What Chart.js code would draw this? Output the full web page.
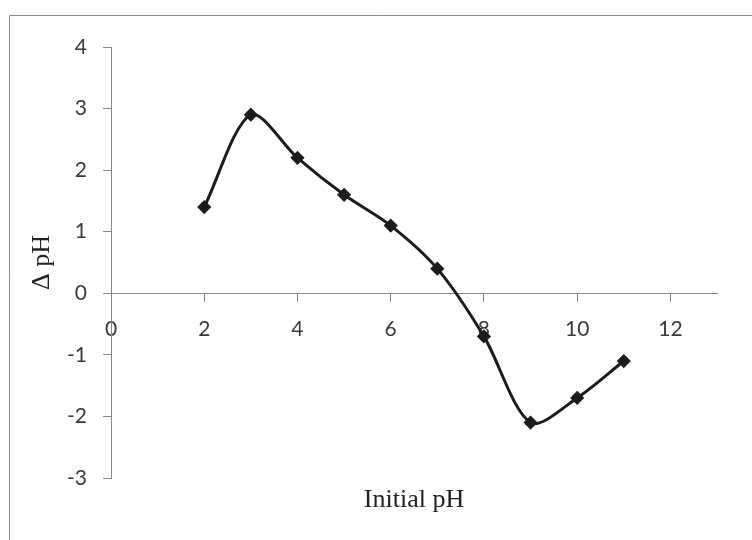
<!DOCTYPE html>
<html>
<head>
<meta charset="utf-8">
<script src="https://cdn.jsdelivr.net/npm/chart.js@4/dist/chart.umd.min.js"></script>
<style>
  html, body { margin: 0; padding: 0; background: #fff; }
  #wrap { width: 752px; height: 540px; }
</style>
</head>
<body>
<div id="wrap"><canvas id="phchart" width="752" height="540"></canvas></div>
<script>
var initialPH = [2, 3, 4, 5, 6, 7, 8, 9, 10, 11];
var deltaPH = [1.4, 2.9, 2.2, 1.6, 1.1, 0.4, -0.7, -2.1, -1.7, -1.1];
var xRange = [0, 13];
var yRange = [-3, 4];

var axisGrey = '#868686';
var tickFont = { family: 'Lato', size: 21 };
var titleFont = { family: 'Liberation Serif', size: 26 };

// grey frame of the chart box (top and left edges only are visible)
var framePlugin = {
  id: 'frame',
  beforeDraw: function (chart) {
    var c = chart.ctx;
    c.save();
    c.strokeStyle = '#8c8c8c';
    c.lineWidth = 1;
    c.beginPath();
    c.moveTo(9.5, chart.height);
    c.lineTo(9.5, 15.5);
    c.lineTo(chart.width, 15.5);
    c.stroke();
    c.restore();
  }
};

var myLineChart;

document.addEventListener("DOMContentLoaded", function (event) {
  var ctx = document.getElementById("phchart").getContext('2d');
  myLineChart = new Chart(ctx, {
    type: 'line',
    data: {
      datasets: [{
        data: initialPH.map(function (x, i) { return { x: x, y: deltaPH[i] }; }),
        borderColor: '#1c1c1c',
        backgroundColor: '#1c1c1c',
        borderWidth: 3,
        tension: 0.3,
        pointStyle: 'rectRot',
        pointRadius: 5,
        pointHoverRadius: 5,
        fill: false
      }]
    },
    options: {
      responsive: false,
      animation: { duration: 0 },
      layout: { padding: { left: 0, top: 47, right: 35, bottom: 0 } },
      plugins: {
        legend: { display: false },
        tooltip: { enabled: false }
      },
      scales: {
        x: {
          type: 'linear',
          min: xRange[0],
          max: xRange[1],
          position: { y: 0 },
          border: { color: axisGrey, width: 1 },
          grid: { drawOnChartArea: false, color: axisGrey, tickLength: 8 },
          ticks: { stepSize: 2, includeBounds: false, padding: 15, color: '#3a3a3a', font: tickFont }
        },
        x2: {
          type: 'linear',
          min: xRange[0],
          max: xRange[1],
          position: 'bottom',
          border: { display: false },
          grid: { display: false },
          ticks: { display: false },
          title: { display: true, text: 'Initial pH', color: '#222', font: titleFont, padding: { top: 0, bottom: 24 } },
          afterFit: function (scale) { scale.height = 62; }
        },
        y: {
          min: yRange[0],
          max: yRange[1],
          border: { color: axisGrey, width: 1 },
          grid: { drawOnChartArea: false, color: axisGrey, tickLength: 8 },
          ticks: { stepSize: 1, padding: 16, color: '#3a3a3a', font: tickFont },
          title: { display: true, text: 'Δ pH', color: '#222', font: titleFont, padding: { top: 27, bottom: 0 } },
          afterFit: function (scale) { scale.width = 111; }
        }
      }
    },
    plugins: [framePlugin]
  });
});
</script>
</body>
</html>
